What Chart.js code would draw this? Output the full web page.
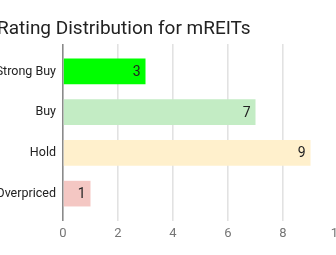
<!DOCTYPE html>
<html>
<head>
<meta charset="utf-8">
<script src="https://cdn.jsdelivr.net/npm/chart.js@4.4.1/dist/chart.umd.min.js"></script>
<style>
html,body{margin:0;padding:0;background:#fff;overflow:hidden;width:336px;height:255px;}
#wrap{position:absolute;left:-3px;top:0;width:360px;height:255px;}
</style>
</head>
<body>
<div id="wrap"><canvas id="c"></canvas></div>
<script>
const categories = ['Strong Buy', 'Buy', 'Hold', 'Overpriced'];
const ratingCounts = [3, 7, 9, 1];
const barColors = ['#00ff00', '#c3ecc4', '#fff0cc', '#f4c7c3'];
const xTickStep = 2;
const xMin = 0, xMax = 10;

const gridColor = ctx => (ctx.tick && ctx.tick.value === 0) ? '#8a8a8a' : '#e2e2e2';

const valueLabels = {
  id: 'valueLabels',
  afterDatasetsDraw(chart) {
    const ctx = chart.ctx;
    const meta = chart.getDatasetMeta(0);
    ctx.save();
    ctx.font = '14px Roboto';
    ctx.fillStyle = '#222';
    ctx.textAlign = 'right';
    ctx.textBaseline = 'middle';
    meta.data.forEach((bar, i) => {
      ctx.fillText(String(chart.data.datasets[0].data[i]), bar.x - 5, bar.y + 1);
    });
    ctx.restore();
  }
};

new Chart(document.getElementById('c'), {
  type: 'bar',
  data: {
    labels: categories,
    datasets: [{
      data: ratingCounts,
      backgroundColor: barColors,
      borderWidth: 0,
      categoryPercentage: 1,
      barPercentage: 0.63
    }]
  },
  options: {
    indexAxis: 'y',
    responsive: true,
    maintainAspectRatio: false,
    animation: false,
    layout: { padding: { left: 0, right: 19, top: 0, bottom: 0 } },
    plugins: {
      legend: { display: false },
      tooltip: { enabled: false },
      title: {
        display: true,
        text: 'Rating Distribution for mREITs',
        align: 'start',
        color: '#222',
        font: { family: 'Roboto', size: 19, weight: 'normal' },
        padding: { top: 18, bottom: 3.2 }
      }
    },
    scales: {
      x: {
        type: 'linear',
        position: 'bottom',
        min: xMin, max: xMax,
        ticks: { stepSize: xTickStep, color: '#757575', font: { family: 'Roboto', size: 13 }, padding: 5 },
        grid: { color: gridColor, lineWidth: 1.6, drawTicks: true, tickLength: 7 },
        border: { display: false },
        afterFit(scale) { scale.height = 41; }
      },
      x2: {
        type: 'linear',
        axis: 'x',
        position: 'top',
        min: xMin, max: xMax,
        ticks: { stepSize: xTickStep, display: false },
        grid: { color: gridColor, lineWidth: 1.6, drawOnChartArea: false, drawTicks: true, tickLength: 7 },
        border: { display: false },
        afterFit(scale) { scale.height = 7; }
      },
      y: {
        type: 'category',
        offset: true,
        ticks: { color: '#222', font: { family: 'Roboto', size: 12.5 }, padding: 7 },
        grid: { display: false, drawTicks: false },
        border: { display: false },
        afterFit(scale) { scale.width = 66; }
      }
    }
  },
  plugins: [valueLabels]
});
</script>
</body>
</html>
